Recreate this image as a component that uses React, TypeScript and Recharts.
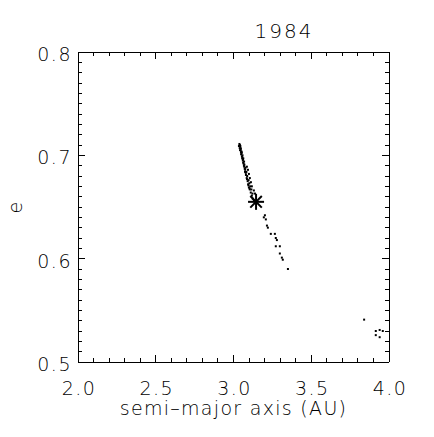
import { ScatterChart, Scatter, XAxis, YAxis, Label } from "recharts"

// tick marks along each axis (labels only on the majors)
const aTicks = [2.0, 2.1, 2.2, 2.3, 2.4, 2.5, 2.6, 2.7, 2.8, 2.9, 3.0, 3.1, 3.2, 3.3, 3.4, 3.5, 3.6, 3.7, 3.8, 3.9, 4.0]
const aMajors = [2.0, 2.5, 3.0, 3.5, 4.0]
const eTicks = [
  0.5, 0.51, 0.52, 0.53, 0.54, 0.55, 0.56, 0.57, 0.58, 0.59, 0.6, 0.61, 0.62, 0.63, 0.64, 0.65, 0.66, 0.67, 0.68, 0.69,
  0.7, 0.71, 0.72, 0.73, 0.74, 0.75, 0.76, 0.77, 0.78, 0.79, 0.8,
]
const eMajors = [0.5, 0.6, 0.7, 0.8]

// clones: main dense band
const bandA = [
  3.035, 3.04, 3.042, 3.048, 3.049, 3.054, 3.056, 3.06, 3.062, 3.067, 3.072, 3.074, 3.08, 3.085, 3.091, 3.094, 3.099,
  3.105, 3.111, 3.118, 3.124, 3.131, 3.044, 3.047, 3.053, 3.058, 3.063, 3.068, 3.07, 3.077, 3.083, 3.088, 3.097, 3.102,
  3.108, 3.115, 3.122, 3.038, 3.041, 3.046, 3.05, 3.052, 3.057, 3.061, 3.065, 3.069, 3.075, 3.079, 3.087, 3.096, 3.103,
]
const bandE = [
  0.709, 0.707, 0.705, 0.703, 0.701, 0.699, 0.697, 0.695, 0.693, 0.69, 0.687, 0.684, 0.681, 0.678, 0.675, 0.672, 0.669,
  0.667, 0.664, 0.661, 0.658, 0.656, 0.709, 0.706, 0.703, 0.7, 0.697, 0.694, 0.691, 0.688, 0.684, 0.68, 0.676, 0.673,
  0.67, 0.667, 0.663, 0.711, 0.71, 0.707, 0.704, 0.702, 0.698, 0.696, 0.692, 0.689, 0.686, 0.683, 0.677, 0.671, 0.668,
]
// thinner strand next to the band
const sideA = [3.086, 3.093, 3.099, 3.105, 3.112, 3.118, 3.131, 3.138]
const sideE = [0.689, 0.686, 0.682, 0.678, 0.674, 0.67, 0.666, 0.663]
// scattered tail below the nominal orbit
const tailA = [3.202, 3.195, 3.208, 3.215, 3.221, 3.24, 3.266, 3.272, 3.279, 3.272, 3.298, 3.298, 3.311, 3.317, 3.35]
const tailE = [0.642, 0.64, 0.638, 0.632, 0.63, 0.624, 0.624, 0.62, 0.618, 0.612, 0.612, 0.605, 0.601, 0.599, 0.59]
// far group near 4 AU
const farA = [3.84, 3.915, 3.915, 3.94, 3.96, 3.94]
const farE = [0.541, 0.53, 0.526, 0.531, 0.53, 0.524]
// nominal orbit
const nominalA = [3.145]
const nominalE = [0.655]

const toPoints = (as: number[], es: number[]) => as.map((a, i) => ({ a, e: es[i] }))
const clones = [
  ...toPoints(bandA, bandE),
  ...toPoints(sideA, sideE),
  ...toPoints(tailA, tailE),
  ...toPoints(farA, farE),
]
const nominal = toPoints(nominalA, nominalE)

const W = 434
const H = 437
const MARGIN = { top: 51, right: 44, bottom: 0, left: 0 }
const X_AXIS_H = 75
const Y_AXIS_W = 78
// plot box size, used to mirror the tick marks onto the top and right edges
const PLOT_W = W - MARGIN.left - MARGIN.right - Y_AXIS_W - 1
const PLOT_H = H - MARGIN.top - MARGIN.bottom - X_AXIS_H - 1

const FONT = "'DejaVu Sans', sans-serif"
const MAJOR_LEN = 7
const MINOR_LEN = 4
const textStyle = { fontSize: 19, fontWeight: 200, fontFamily: FONT, letterSpacing: 1.5 }
const tickLine = { stroke: "#000", strokeWidth: 1, shapeRendering: "crispEdges" as const }

const isMajor = (v: number, majors: number[]) => majors.some((m) => Math.abs(m - v) < 1e-6)

function BottomTick({ x, y, payload }: any) {
  const major = isMajor(payload.value, aMajors)
  const len = major ? MAJOR_LEN : MINOR_LEN
  return (
    <g>
      <path d={`M${x},${y}V${y - len}`} {...tickLine} />
      <path d={`M${x},${y - PLOT_H}V${y - PLOT_H + len}`} {...tickLine} />
      {major && (
        <text x={x + 1} y={y + 26} textAnchor="middle" dominantBaseline="central" fill="#000" style={textStyle}>
          {payload.value.toFixed(1)}
        </text>
      )}
    </g>
  )
}

function LeftTick({ x, y, payload }: any) {
  const major = isMajor(payload.value, eMajors)
  const len = major ? MAJOR_LEN : MINOR_LEN
  return (
    <g>
      <path d={`M${x},${y}H${x + len}`} {...tickLine} />
      <path d={`M${x + PLOT_W},${y}H${x + PLOT_W - len}`} {...tickLine} />
      {major && (
        <text x={x - 6} y={y + 2} textAnchor="end" dominantBaseline="central" fill="#000" style={textStyle}>
          {payload.value.toFixed(1)}
        </text>
      )}
    </g>
  )
}

const Dot = (p: any) => <rect x={p.cx - 1} y={p.cy - 1} width={2} height={2} fill="#000" />

const Asterisk = (p: any) => {
  const r = 8
  const d = r * 0.72
  return (
    <g stroke="#000" strokeWidth={2}>
      <line x1={p.cx - r} x2={p.cx + r} y1={p.cy} y2={p.cy} />
      <line x1={p.cx} x2={p.cx} y1={p.cy - r} y2={p.cy + r} />
      <line x1={p.cx - d} x2={p.cx + d} y1={p.cy - d} y2={p.cy + d} />
      <line x1={p.cx - d} x2={p.cx + d} y1={p.cy + d} y2={p.cy - d} />
    </g>
  )
}

const axisLine = { stroke: "#000", shapeRendering: "crispEdges" }

export default function App() {
  return (
    <div style={{ position: "absolute", left: 0, top: 0, width: W, height: H, background: "#fff" }}>
      <div
        style={{
          position: "absolute",
          left: 234,
          width: 100,
          top: 18,
          textAlign: "center",
          fontFamily: FONT,
          fontWeight: 200,
          fontSize: 20,
          letterSpacing: 2,
          lineHeight: "26px",
        }}
      >
        1984
      </div>
      <ScatterChart width={W} height={H} margin={MARGIN}>
        <XAxis
          xAxisId="bottom"
          type="number"
          dataKey="a"
          domain={[2, 4]}
          ticks={aTicks}
          interval={0}
          tickSize={0}
          tickMargin={0}
          tickLine={false}
          tick={<BottomTick />}
          axisLine={axisLine}
          height={X_AXIS_H}
        >
          <Label
            value="semi–major axis (AU)"
            position="insideTop"
            offset={40}
            fill="#000"
            style={{ ...textStyle, letterSpacing: 1.3, fill: "#000" }}
          />
        </XAxis>
        <XAxis
          xAxisId="top"
          orientation="top"
          type="number"
          domain={[2, 4]}
          tick={false}
          tickLine={false}
          axisLine={axisLine}
          height={1}
        />
        <YAxis
          yAxisId="left"
          type="number"
          dataKey="e"
          domain={[0.5, 0.8]}
          ticks={eTicks}
          interval={0}
          tickSize={0}
          tickMargin={0}
          tickLine={false}
          tick={<LeftTick />}
          axisLine={axisLine}
          width={Y_AXIS_W}
        >
          <Label
            value="e"
            angle={-90}
            position="insideLeft"
            offset={15}
            fill="#000"
            style={{ ...textStyle, fill: "#000", textAnchor: "middle" }}
          />
        </YAxis>
        <YAxis
          yAxisId="right"
          orientation="right"
          type="number"
          domain={[0.5, 0.8]}
          tick={false}
          tickLine={false}
          axisLine={axisLine}
          width={1}
        />
        <Scatter xAxisId="bottom" yAxisId="left" data={clones} shape={Dot} isAnimationActive={false} />
        <Scatter xAxisId="bottom" yAxisId="left" data={nominal} shape={Asterisk} isAnimationActive={false} />
      </ScatterChart>
    </div>
  )
}
